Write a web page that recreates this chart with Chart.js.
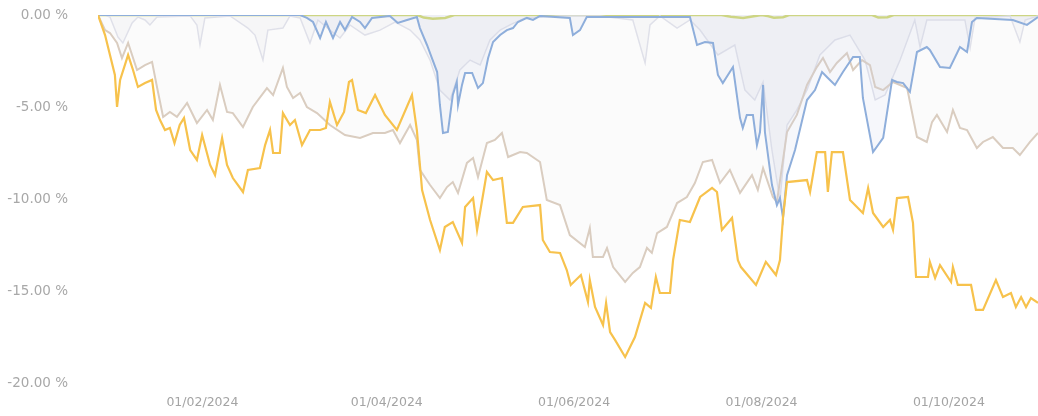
<!DOCTYPE html>
<html>
<head>
<meta charset="utf-8">
<script src="https://cdn.jsdelivr.net/npm/chart.js@4.4.1/dist/chart.umd.min.js"></script>
<style>
  html, body { margin: 0; padding: 0; background: #fff; }
  #caja { width: 1038px; height: 416px; position: relative; }
</style>
</head>
<body>
<div id="caja"><canvas id="graficoDrawdown"></canvas></div>
<script>
// dias desde el 01/01/2024, valores en %
const xTickDays = [31, 91, 152, 213, 274];
const xTickLabels = ['01/02/2024', '01/04/2024', '01/06/2024', '01/08/2024', '01/10/2024'];
const yTickValues = [0, -5, -10, -15, -20];

const naranjaDias = [-3, -0.7, 0.9, 2.5, 3.2, 4.2, 6.8, 8.4, 10, 12.3, 14.6, 15.9, 17.2, 18.8, 20.4, 21.9, 23.6, 25, 27, 29.2,
  30.9, 33.5, 35.1, 37.4, 39, 40.9, 44.2, 45.8, 49.7, 51.4, 53, 54, 56.2, 57.2, 59.5, 61.1, 63.4, 66, 69.3, 71.2,
  72.5, 74.8, 77.1, 78.7, 79.7, 81.6, 84.2, 87.2, 90.4, 94.3, 99.2, 100.8, 102.5, 105.1, 108.3, 109.9, 112.5, 115.5, 116.5, 119.1,
  120.4, 123.6, 125.6, 128.5, 130.1, 132.1, 135.3, 140.9, 141.8, 144.1, 147.4, 149.6, 150.9, 154.2, 156.5, 157.1, 158.8, 161.4, 162.4, 163.7,
  165.3, 168.6, 171.8, 175.1, 177, 178.6, 179.9, 183.2, 184.2, 186.4, 189.7, 193, 196.9, 198.5, 200.1, 203.4, 205.3, 206.3, 211.2, 214.4,
  217.7, 219, 220, 221.3, 227.8, 228.8, 231, 233.7, 234.6, 235.9, 239.5, 241.8, 246, 247.7, 249.3, 252.6, 254.8, 255.8, 257.1, 260.7,
  262.3, 263.3, 267.2, 267.8, 269.5, 271.1, 274.7, 275.3, 276.9, 281.2, 282.8, 285.1, 289.3, 291.6, 294.2, 295.8, 297.5, 299.1, 300.7, 303];
const naranjaValores = [0, -1.09, -2.17, -3.26, -5.0, -3.53, -2.17, -2.99, -3.91, -3.7, -3.53, -5.16, -5.71, -6.25, -6.14, -6.96, -5.98, -5.6, -7.34, -7.88,
  -6.52, -8.15, -8.7, -6.68, -8.15, -8.86, -9.62, -8.42, -8.32, -7.07, -6.25, -7.5, -7.5, -5.33, -5.98, -5.71, -7.07, -6.25, -6.25, -6.14,
  -4.73, -5.98, -5.27, -3.64, -3.53, -5.16, -5.33, -4.35, -5.43, -6.25, -4.35, -6.25, -9.51, -11.14, -12.77, -11.52, -11.25, -12.39, -10.43, -9.95,
  -11.68, -8.53, -8.97, -8.86, -11.3, -11.3, -10.43, -10.33, -12.23, -12.88, -12.93, -13.86, -14.67, -14.13, -15.6, -14.4, -15.87, -16.85, -15.65, -17.23,
  -17.66, -18.59, -17.5, -15.65, -15.92, -14.24, -15.11, -15.11, -13.32, -11.14, -11.25, -9.89, -9.4, -9.62, -11.68, -11.03, -13.32, -13.7, -14.67, -13.42,
  -14.13, -13.32, -10.98, -9.08, -8.97, -9.62, -7.45, -7.45, -9.62, -7.45, -7.45, -10.05, -10.76, -9.4, -10.76, -11.52, -11.14, -11.68, -9.95, -9.89,
  -11.3, -14.24, -14.24, -13.42, -14.29, -13.59, -14.51, -13.7, -14.67, -14.67, -16.03, -16.03, -14.4, -15.33, -15.11, -15.87, -15.33, -15.87, -15.38, -15.65];

const tostadoDias = [-3, -0.7, 0.9, 3.2, 4.8, 6.8, 9.7, 12.3, 14.6, 16.2, 18.2, 20.4, 22.7, 26, 29.2, 32.5, 34.4, 36.7, 39, 40.9,
  44.2, 47.4, 52, 54, 57.2, 58.5, 60.5, 62.8, 65, 68.3, 72.5, 77.4, 82.3, 86.5, 90.4, 93, 95.3, 98.6, 100.8, 101.8,
  105.1, 108.3, 110.6, 112.5, 114.2, 117.1, 119.1, 120.7, 123.6, 126.2, 128.5, 130.5, 134.4, 136.6, 140.9, 143.1, 147.4, 150.6, 155.5, 157.1,
  158.1, 161.4, 162.7, 164.7, 168.6, 171.1, 173.4, 175.7, 177.3, 179, 182.2, 185.5, 188.7, 191.3, 193.9, 196.9, 199.5, 202.7, 206, 209.9,
  211.8, 213.5, 216.7, 218, 221.3, 224.5, 227.8, 231, 233, 235.3, 237.5, 240.8, 242.8, 245.7, 248.3, 250, 252.6, 255.8, 260.4, 263.6,
  266.8, 268.5, 270.1, 273.4, 275.3, 277.6, 279.9, 283.1, 285.1, 288.3, 291.6, 294.8, 297.1, 300.4, 303];
const tostadoValores = [0, -0.82, -0.98, -1.52, -2.34, -1.52, -2.99, -2.72, -2.55, -3.91, -5.54, -5.27, -5.54, -4.78, -5.87, -5.16, -5.71, -3.8, -5.27, -5.33,
  -6.09, -5.0, -3.97, -4.35, -2.88, -3.91, -4.51, -4.24, -5.0, -5.33, -5.98, -6.52, -6.68, -6.41, -6.41, -6.25, -6.96, -5.98, -6.79, -8.42,
  -9.24, -9.95, -9.35, -9.08, -9.67, -8.04, -7.77, -8.8, -6.96, -6.79, -6.41, -7.72, -7.45, -7.5, -7.99, -10.05, -10.33, -11.96, -12.61, -11.58,
  -13.15, -13.15, -12.66, -13.7, -14.51, -14.02, -13.7, -12.66, -12.93, -11.85, -11.52, -10.22, -9.89, -9.13, -7.99, -7.88, -9.13, -8.42, -9.67, -8.7,
  -9.51, -8.32, -9.89, -10.16, -6.36, -5.43, -3.8, -2.83, -2.34, -3.1, -2.61, -2.07, -2.99, -2.45, -2.72, -3.91, -4.08, -3.64, -3.97, -6.63,
  -6.9, -5.82, -5.43, -6.36, -5.16, -6.14, -6.25, -7.23, -6.9, -6.63, -7.23, -7.23, -7.61, -6.9, -6.41];

const azulDias = [-3, 62.8, 65, 67, 69.3, 71.2, 73.5, 75.8, 77.4, 79.7, 82.3, 83.9, 86.2, 92, 94.6, 97.6, 100.8, 101.8, 104.1, 105.7,
  107.4, 108.3, 109.3, 110.9, 112.5, 113.8, 114.2, 115.5, 116.5, 118.8, 120.7, 122.3, 124, 125.6, 127.9, 130.1, 132.1, 133.7, 136.6, 138.6,
  140.9, 150.6, 151.6, 153.9, 156.1, 189.7, 192, 194.6, 197.2, 198.8, 200.4, 203.7, 206, 206.9, 208.2, 210.2, 211.5, 212.5, 213.5, 214.1,
  216.4, 218, 219, 220, 221.3, 223.9, 227.8, 230.4, 232.7, 234.6, 236.9, 239.5, 242.8, 245, 246, 249.3, 252.6, 255.5, 257.1, 259.1,
  261.3, 263.6, 266.8, 267.8, 271.1, 274.3, 277.6, 279.9, 281.5, 283.1, 294.8, 299.4, 303];
const azulValores = [0, 0, -0.16, -0.38, -1.25, -0.38, -1.25, -0.38, -0.82, -0.11, -0.38, -0.71, -0.16, -0.05, -0.43, -0.27, -0.11, -0.71, -1.63, -2.34,
  -3.1, -4.89, -6.41, -6.36, -4.35, -3.64, -4.89, -3.8, -3.15, -3.15, -3.97, -3.7, -2.34, -1.47, -1.09, -0.82, -0.71, -0.38, -0.16, -0.27,
  -0.05, -0.16, -1.09, -0.82, -0.11, -0.11, -1.63, -1.47, -1.52, -3.26, -3.7, -2.83, -5.6, -6.14, -5.43, -5.43, -7.07, -6.36, -3.8, -6.36,
  -9.24, -10.33, -9.95, -11.03, -8.7, -7.34, -4.62, -4.08, -3.1, -3.42, -3.8, -3.1, -2.28, -2.28, -4.51, -7.45, -6.68, -3.53, -3.64, -3.7,
  -4.18, -2.01, -1.74, -1.9, -2.83, -2.88, -1.74, -2.01, -0.38, -0.16, -0.27, -0.54, -0.11];

const grisDias = [-3, -0.7, 0.9, 3.5, 5.1, 8.1, 10, 12.3, 13.9, 16.2, 27, 29.2, 30.2, 31.8, 40, 45.8, 48.1, 50.7, 52.3, 57.2,
  59.5, 62.8, 66, 68.6, 72.5, 75.8, 79, 83.9, 88.8, 93.7, 98.6, 101.8, 105.1, 108.3, 111.6, 114.8, 118.1, 121.4, 124.6, 127.9,
  131.1, 136, 147.4, 160.4, 171.1, 175.1, 176.7, 179.9, 185.5, 189.7, 193, 198.8, 204.3, 207.6, 210.8, 213.5, 216.4, 219, 221.3, 224.5,
  227.8, 232, 236.9, 241.8, 246.7, 250, 253.2, 258.1, 262.9, 264.6, 266.8, 279.2, 280.9, 282.5, 293.9, 297.1, 298.8, 303];
const grisValores = [0, 0, -0.11, -1.2, -1.52, -0.43, -0.11, -0.27, -0.54, -0.11, -0.05, -0.54, -1.63, -0.16, -0.05, -0.71, -1.09, -2.45, -0.82, -0.71,
  -0.05, -0.16, -1.52, -0.27, -0.82, -1.25, -0.54, -1.09, -0.82, -0.38, -0.82, -1.36, -2.45, -4.08, -4.62, -2.99, -2.45, -2.72, -1.36, -0.82,
  -0.54, -0.16, -0.05, -0.05, -0.27, -2.61, -0.54, -0.05, -0.71, -0.27, -0.82, -2.17, -1.63, -4.08, -4.62, -3.64, -7.34, -10.05, -5.98, -5.16,
  -4.08, -2.17, -1.36, -1.09, -2.45, -4.62, -4.35, -2.45, -0.27, -1.74, -0.27, -0.27, -1.79, -0.16, -0.05, -1.47, -0.27, -0.05];

const verdeDias = [-3, 101, 103, 106, 110, 113, 200, 203, 207, 210, 213, 215, 217, 220, 222, 249, 251, 254, 256, 303];
const verdeValores = [0, 0, -0.14, -0.2, -0.16, 0, 0, -0.1, -0.16, -0.08, 0, -0.06, -0.15, -0.12, 0, 0, -0.14, -0.12, 0, 0];

function aPuntos(dias, valores) {
    return dias.map((d, i) => ({ x: d, y: valores[i] }));
}

function serie(dias, valores, color, ancho, relleno, orden) {
    return {
        data: aPuntos(dias, valores),
        borderColor: color,
        borderWidth: ancho,
        backgroundColor: relleno || 'transparent',
        fill: relleno ? 'origin' : false,
        pointRadius: 0,
        tension: 0,
        order: orden
    };
}

document.addEventListener("DOMContentLoaded", () => {
    const ctx = document.getElementById('graficoDrawdown').getContext('2d');

    new Chart(ctx, {
        type: 'line',
        data: {
            datasets: [
                serie(naranjaDias, naranjaValores, '#f7c24c', 2.2, null, 0),
                serie(azulDias, azulValores, '#8eaedb', 2, 'rgba(200, 206, 232, 0.17)', 1),
                serie(tostadoDias, tostadoValores, '#dacdc0', 2, 'rgba(228, 228, 230, 0.15)', 2),
                serie(grisDias, grisValores, '#dfe0ea', 1.5, 'rgba(214, 216, 230, 0.15)', 3),
                serie(verdeDias, verdeValores, '#c9d544', 2.5, null, 4)
            ]
        },
        options: {
            responsive: true,
            maintainAspectRatio: false,
            animation: false,
            layout: { padding: { top: 15, right: 0, bottom: 0, left: 0 } },
            plugins: {
                legend: { display: false },
                tooltip: { enabled: false }
            },
            scales: {
                x: {
                    type: 'linear',
                    min: -3,
                    max: 303,
                    grid: { display: false, drawTicks: false },
                    border: { display: false },
                    afterBuildTicks: (scale) => {
                        scale.ticks = xTickDays.map(v => ({ value: v }));
                    },
                    afterFit: (scale) => {
                        scale.height = 33;
                    },
                    ticks: {
                        autoSkip: false,
                        maxRotation: 0,
                        padding: 12,
                        color: '#a4a4a4',
                        font: { family: "'DejaVu Sans', sans-serif", size: 12.5 },
                        callback: function(value) {
                            const i = xTickDays.indexOf(value);
                            return i >= 0 ? xTickLabels[i] : '';
                        }
                    }
                },
                y: {
                    min: -20,
                    max: 0,
                    grid: { display: false, drawTicks: false },
                    border: { display: false },
                    afterBuildTicks: (scale) => {
                        scale.ticks = yTickValues.map(v => ({ value: v }));
                    },
                    afterFit: (scale) => {
                        scale.width = 98;
                        scale.paddingTop = 0;
                        scale.paddingBottom = 0;
                    },
                    ticks: {
                        padding: 30,
                        color: '#a8a8a8',
                        font: { family: "'DejaVu Sans', sans-serif", size: 13.5 },
                        callback: function(value) {
                            return value.toFixed(2) + ' %';
                        }
                    }
                }
            }
        }
    });
});
</script>
</body>
</html>
